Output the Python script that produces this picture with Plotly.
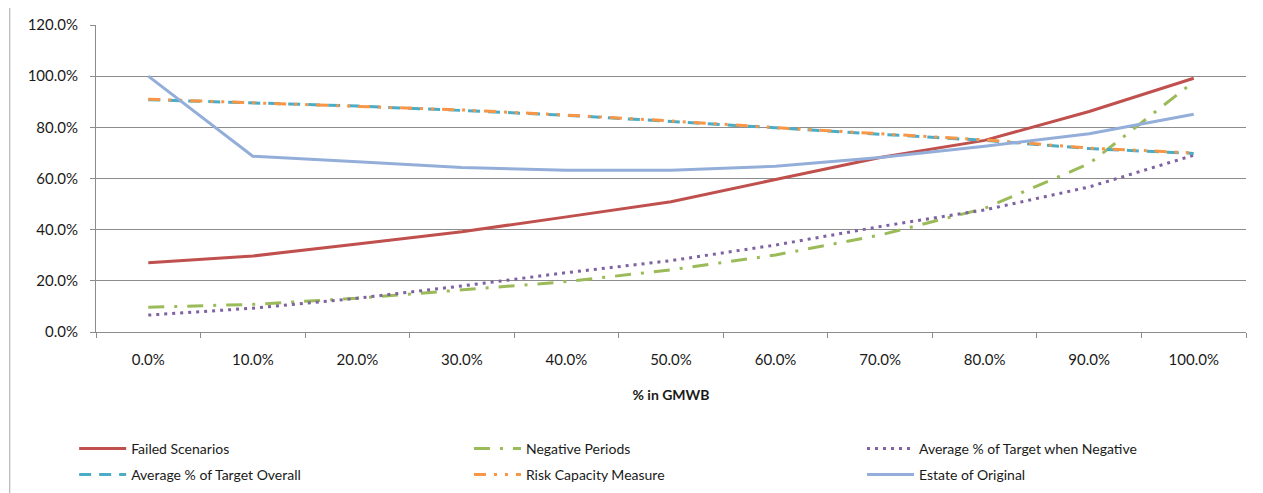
import plotly.graph_objects as go

# % in GMWB categories
gmwb = ["0.0%", "10.0%", "20.0%", "30.0%", "40.0%", "50.0%",
        "60.0%", "70.0%", "80.0%", "90.0%", "100.0%"]

failed_scenarios = [0.271, 0.297, 0.344, 0.392, 0.450, 0.509, 0.596, 0.682, 0.749, 0.862, 0.992]
negative_periods = [0.097, 0.108, 0.132, 0.165, 0.197, 0.243, 0.301, 0.379, 0.483, 0.658, 0.978]
avg_target_negative = [0.066, 0.093, 0.132, 0.180, 0.232, 0.279, 0.340, 0.412, 0.477, 0.567, 0.691]
avg_target_overall = [0.908, 0.895, 0.883, 0.866, 0.847, 0.823, 0.797, 0.773, 0.749, 0.717, 0.698]
risk_capacity = [0.910, 0.896, 0.884, 0.868, 0.848, 0.825, 0.799, 0.775, 0.751, 0.719, 0.700]
estate_original = [1.000, 0.687, 0.665, 0.643, 0.632, 0.632, 0.648, 0.682, 0.726, 0.775, 0.851]

y_ticks = [0, 0.2, 0.4, 0.6, 0.8, 1.0, 1.2]

fig = go.Figure()

# name, values, colour, dash
series = [
    ("Failed Scenarios", failed_scenarios, "#C0504D", "solid"),
    ("Negative Periods", negative_periods, "#9BBB59", "16px,10px,3px,10px"),
    ("Average % of Target when Negative", avg_target_negative, "#7F62A1", "3px,5px"),
    ("Average % of Target Overall", avg_target_overall, "#4BACC6", "12px,8px"),
    ("Risk Capacity Measure", risk_capacity, "#F79646", "12px,8px,3px,8px,3px,8px"),
    ("Estate of Original", estate_original, "#94AEDA", "solid"),
]
# one legend per entry so the 3x2 grid sits like the excel one
leg_x = [-0.019, 0.3243, 0.6661]
leg_y = [-0.329, -0.4137]

legends = {}
for i, (name, vals, col, dash) in enumerate(series):
    key = "legend" if i == 0 else "legend%d" % (i + 1)
    fig.add_trace(go.Scatter(x=gmwb, y=vals, name=name, mode="lines", legend=key,
                             line=dict(color=col, width=3, dash=dash)))
    legends[key] = dict(orientation="h", x=leg_x[i % 3], xanchor="left",
                        y=leg_y[i // 3], yanchor="top", itemwidth=47,
                        font=dict(size=14), bgcolor="rgba(0,0,0,0)")

# the page body has an 8px margin, so the figure is a bit smaller than the window
# autoexpand off: the legends would otherwise squash the plot area
fig.update_layout(
    width=1255, height=485,
    margin=dict(l=88, r=17, t=17, b=161, autoexpand=False),
    paper_bgcolor="white", plot_bgcolor="white",
    font=dict(family="Lato, Open Sans, sans-serif", size=15, color="#1a1a1a"),
    showlegend=True,
    **legends,
)

fig.update_xaxes(
    type="category", range=[-0.5, 10.5],
    showline=True, linecolor="#8c8c8c", linewidth=1,
    ticks="outside", tickson="boundaries", ticklen=5, tickcolor="#8c8c8c",
    showgrid=False, ticklabelstandoff=14, automargin=False,
    title=dict(text="<b>% in GMWB</b>", font=dict(size=14), standoff=23),
)
fig.update_yaxes(
    range=[0, 1.2], tickvals=y_ticks, tickformat=".1%",
    showline=True, linecolor="#8c8c8c", linewidth=1,
    ticks="outside", ticklen=5, tickcolor="#8c8c8c",
    showgrid=True, gridcolor="#8c8c8c", gridwidth=1,
    zeroline=False, ticklabelstandoff=9, automargin=False,
)

# outer chart frame (left and top edges)
fig.add_shape(type="line", xref="paper", yref="paper",
              x0=-0.075, x1=-0.075, y0=1.06, y1=-0.6,
              line=dict(color="#a6a6a6", width=1))
fig.add_shape(type="line", xref="paper", yref="paper",
              x0=-0.075, x1=1.02, y0=1.06, y1=1.06,
              line=dict(color="#d0d0d0", width=1))

fig.write_html("out.html")
